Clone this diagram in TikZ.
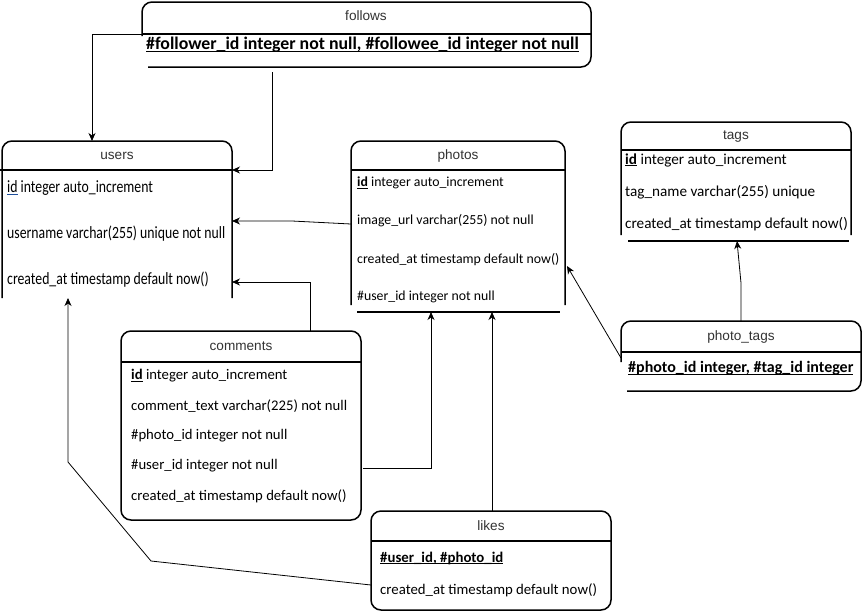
\documentclass[tikz,border=0pt]{standalone}
\usepackage{fontspec}
\setmainfont{Carlito}
\newfontfamily\hdrfont{Liberation Sans}
\usetikzlibrary{arrows.meta,calc}
\definecolor{hdrgray}{HTML}{333333}
\definecolor{selblue}{HTML}{1F4E9A}
\newcommand{\ulx}[2][black]{\setbox0\hbox{#2}\rlap{\color{#1}\rule[-2.2pt]{\wd0}{0.9pt}}\box0\relax}
\newcommand{\usq}[1]{\scalebox{0.8}[1]{#1}}
\begin{document}
\begin{tikzpicture}[x=1pt,y=-1pt,
 frame/.style={draw=none, inner sep=0pt, outer sep=0pt, anchor=north west, rectangle},
 tbl/.style={line width=1.5pt, rounded corners=10pt},
 sep/.style={line width=1.2pt},
 conn/.style={line width=0.8pt},
 arr/.style={conn, -{Stealth[length=8pt,width=7pt,inset=2.5pt]}},
 title/.style={font=\hdrfont\fontsize{13.6pt}{15pt}\selectfont, text=hdrgray, inner sep=0pt},
 row/.style={font=\fontsize{#1pt}{#1pt}\selectfont, anchor=west, inner sep=0pt},
 row/.default=14.7,
]
\fill[white] (0,0) rectangle (862,614);
\useasboundingbox (0,0) rectangle (862,614);

% ---------- frames ----------
\node[frame, minimum width=449pt, minimum height=65pt]  (follows)  at (142,2) {};
\node[frame, minimum width=230pt, minimum height=157pt] (users)    at (2,141) {};
\node[frame, minimum width=214pt, minimum height=164pt] (photos)   at (351,141) {};
\node[frame, minimum width=230pt, minimum height=113pt] (tags)     at (621,122) {};
\node[frame, minimum width=240pt, minimum height=70pt]  (ptags)    at (621,321) {};
\node[frame, minimum width=240pt, minimum height=189pt] (comments) at (121,331) {};
\node[frame, minimum width=240pt, minimum height=99pt]  (likes)    at (371,511) {};

% ---------- borders ----------
\draw[tbl] ($(follows.north west)+(0,34)$) -- (follows.north west) -- (follows.north east) -- (follows.south east) -- ($(follows.south west)+(6,0)$);
\draw[sep] (142,34) -- (591,34);

\draw[tbl] (users.south west) -- (users.north west) -- (users.north east) -- (users.south east);
\draw[sep] (0,170) -- (232,170);

\draw[tbl] (photos.south west) -- (photos.north west) -- (photos.north east) -- (photos.south east);
\draw[sep] (351,170) -- (565,170);
\draw[tbl] (357,312) -- (560,312);

\draw[tbl] (tags.south west) -- (tags.north west) -- (tags.north east) -- (tags.south east);
\draw[sep] (621,150) -- (851,150);
\draw[tbl] (628,241) -- (849,241);

\draw[tbl] ($(ptags.north west)+(0,41)$) -- (ptags.north west) -- (ptags.north east) -- (ptags.south east) -- ($(ptags.south west)+(6,0)$);
\draw[sep] (621,352) -- (861,352);

\draw[tbl] (comments.north west) rectangle (comments.south east);
\draw[sep] (121,362) -- (361,362);

\draw[tbl] (likes.north west) rectangle (likes.south east);
\draw[sep] (371,541) -- (611,541);

% ---------- titles ----------
\node[title] (follows-t)  at (366,16)  {follows};
\node[title] (users-t)    at (117,156) {users};
\node[title] (photos-t)   at (458,156) {photos};
\node[title] (tags-t)     at (736,137) {tags};
\node[title] (ptags-t)    at (741,337) {photo\_tags};
\node[title] (comments-t) at (241,346) {comments};
\node[title] (likes-t)    at (491,526) {likes};

% ---------- rows ----------
\node[row=17.8] (follows-1) at (146,45) {\bfseries\ulx{\#follower\_id integer not null, \#followee\_id integer not null}};

\node[row=17.2] (users-1) at (7,188) {\usq{\ulx[selblue]{id} integer auto\_increment}};
\node[row=17.2] (users-2) at (7,234) {\usq{username varchar(255) unique not null}};
\node[row=17.2] (users-3) at (7,280) {\usq{created\_at timestamp default now()}};

\node[row=13.8] (photos-1) at (357,183) {\ulx{\bfseries id} integer auto\_increment};
\node[row=13.8] (photos-2) at (357,221) {image\_url varchar(255) not null};
\node[row=13.8] (photos-3) at (357,260) {created\_at timestamp default now()};
\node[row=13.8] (photos-4) at (357,297) {\#user\_id integer not null};

\node[row=15.2] (tags-1) at (625,160) {\ulx{\bfseries id} integer auto\_increment};
\node[row=15.2] (tags-2) at (625,192) {tag\_name varchar(255) unique};
\node[row=15.2] (tags-3) at (625,224) {created\_at timestamp default now()};

\node[row=16] (ptags-1) at (628,368) {\bfseries\ulx{\#photo\_id integer, \#tag\_id integer}};

\node[row] (comments-1) at (131,376) {\ulx{\bfseries id} integer auto\_increment};
\node[row] (comments-2) at (131,406) {comment\_text varchar(225) not null};
\node[row] (comments-3) at (131,436) {\#photo\_id integer not null};
\node[row] (comments-4) at (131,466) {\#user\_id integer not null};
\node[row] (comments-5) at (131,496) {created\_at timestamp default now()};

\node[row=14.8] (likes-1) at (380,558) {\bfseries\ulx{\#user\_id, \#photo\_id}};
\node[row=14.8] (likes-2) at (380,590) {created\_at timestamp default now()};

% ---------- connectors ----------
\draw[arr] ($(follows.north west)+(0,32)$) -| ($(users.north west)+(90,0)$);
\draw[arr] ($(follows.south west)+(130,5)$) |- ($(users.north east)+(0,29)$);
\draw[arr] ($(photos.north west)+(0,83)$) -- ++(-59,-3) -- ($(users.north east)+(0,80)$);
\draw[arr] ($(comments.north west)+(189,0)$) |- ($(users.north east)+(0,141)$);
\draw[arr] ($(comments.north east)+(2,137)$) -| ($(photos.south west)+(80,7)$);
\draw[arr] ($(likes.north west)+(121,0)$) -- ($(photos.south west)+(141,7)$);
\draw[arr] ($(likes.north west)+(0,74)$) -- ++(-220,-24) -- ++(-83,-99) -- ($(users.south west)+(66,0)$);
\draw[arr] ($(ptags.north west)+(0,37)$) -- ($(photos.north east)+(2,125)$);
\draw[arr] ($(ptags.north west)+(120,0)$) -- ++(0,-38) -- ($(tags.south west)+(116,6)$);
\end{tikzpicture}
\end{document}
